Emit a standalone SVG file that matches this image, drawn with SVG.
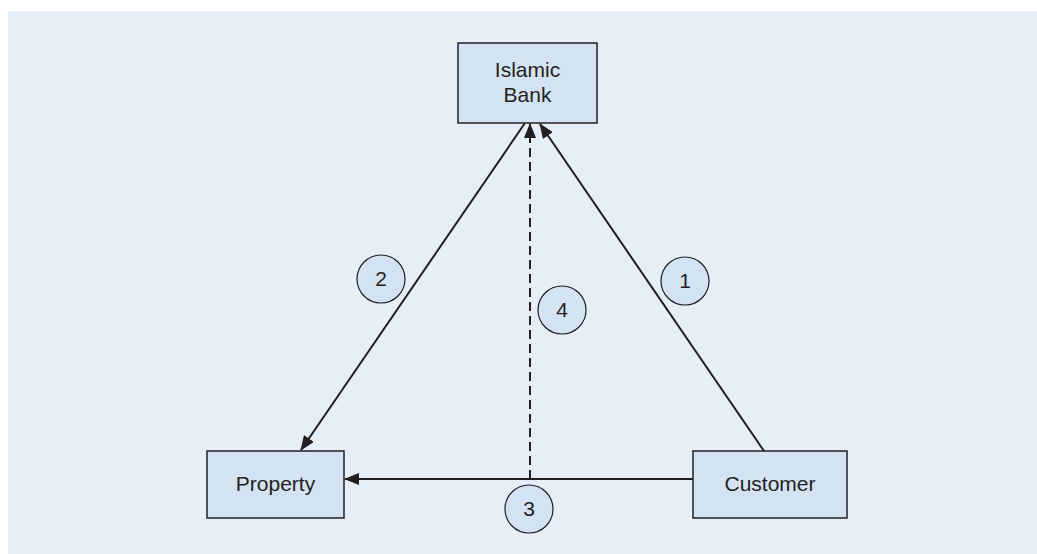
<svg xmlns="http://www.w3.org/2000/svg" width="1037" height="554" viewBox="0 0 1037 554">
  <defs>
    <marker id="arrow" viewBox="0 0 15 12" refX="14" refY="6" markerWidth="15" markerHeight="12" markerUnits="userSpaceOnUse" orient="auto">
      <path d="M0,0 L15,6 L0,12 Z" fill="#231f20"/>
    </marker>
    <style>
      .box { fill: #d3e3f3; stroke: #231f20; stroke-width: 1.5; }
      .badge { fill: #d3e3f3; stroke: #231f20; stroke-width: 1.2; }
      .label { font-family: "Liberation Sans", Arial, sans-serif; font-size: 21px; fill: #231f20; text-anchor: middle; }
      .link { stroke: #231f20; stroke-width: 2; fill: none; }
      .dashed { stroke-dasharray: 9 5; }
    </style>
  </defs>

  <!-- panel -->
  <rect x="0" y="0" width="1037" height="554" fill="#ffffff"/>
  <rect x="8" y="11" width="1029" height="543" fill="#e6eef8"/>

  <!-- connectors -->
  <g id="connectors">
    <line class="link" x1="764" y1="451" x2="540" y2="124" marker-end="url(#arrow)"/>
    <line class="link" x1="525" y1="123" x2="301" y2="450" marker-end="url(#arrow)"/>
    <line class="link" x1="693" y1="479" x2="345" y2="479" marker-end="url(#arrow)"/>
    <line class="link dashed" x1="530" y1="479" x2="530" y2="124" marker-end="url(#arrow)"/>
  </g>

  <g id="bank">
    <rect class="box" x="458" y="43" width="139" height="80"/>
    <text class="label" x="527.5" y="77">Islamic</text>
    <text class="label" x="527.5" y="102">Bank</text>
  </g>

  <g id="property">
    <rect class="box" x="207" y="451" width="137" height="67"/>
    <text class="label" x="275.5" y="491">Property</text>
  </g>

  <g id="customer">
    <rect class="box" x="693" y="451" width="154" height="67"/>
    <text class="label" x="770" y="491">Customer</text>
  </g>

  <g id="step-1">
    <circle class="badge" cx="685" cy="281" r="24"/>
    <text class="label" x="685" y="288">1</text>
  </g>
  <g id="step-2">
    <circle class="badge" cx="381" cy="279" r="24"/>
    <text class="label" x="381" y="286">2</text>
  </g>
  <g id="step-3">
    <circle class="badge" cx="529" cy="509" r="24"/>
    <text class="label" x="529" y="516">3</text>
  </g>
  <g id="step-4">
    <circle class="badge" cx="562" cy="310" r="24"/>
    <text class="label" x="562" y="317">4</text>
  </g>
</svg>
